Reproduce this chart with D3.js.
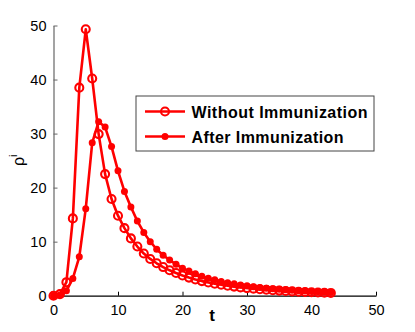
<!DOCTYPE html>
<html>
<head>
<meta charset="utf-8">
<script src="https://d3js.org/d3.v7.min.js"></script>
<style>
html,body{margin:0;padding:0;background:#fff;}
svg{display:block;}
</style>
</head>
<body>
<svg id="chart" width="415" height="332"></svg>
<script>
const tValues = d3.range(0, 44);
const withoutImmunization = [0, 0.3, 2.5, 14.3, 38.5, 49.3, 40.2, 29.9, 22.5, 17.9, 14.8, 12.5, 10.6, 9.1,
  7.8, 6.8, 6.0, 5.3, 4.7, 4.2, 3.75, 3.35, 3.0, 2.7, 2.45, 2.22, 2.02, 1.84, 1.68, 1.54,
  1.41, 1.3, 1.2, 1.1, 1.02, 0.94, 0.87, 0.8, 0.74, 0.69, 0.64, 0.59, 0.55, 0.51];
const afterImmunization = [0, 0.15, 0.9, 3.2, 7.2, 16.1, 28.3, 32.2, 31.2, 27.6, 23.1, 19.3, 16.4, 13.8,
  11.7, 10.0, 8.6, 7.5, 6.6, 5.8, 5.1, 4.55, 4.05, 3.6, 3.25, 2.95, 2.65, 2.4, 2.2, 2.0,
  1.82, 1.66, 1.52, 1.4, 1.28, 1.18, 1.08, 1.0, 0.92, 0.85, 0.78, 0.72, 0.66, 0.61];
const xTicks = [0, 10, 20, 30, 40, 50];
const yTicks = [0, 10, 20, 30, 40, 50];
const seriesNames = ["Without Immunization", "After Immunization"];

const svg = d3.select("#chart");
const x = d3.scaleLinear().domain([0, 50]).range([53.5, 376]);
const y = d3.scaleLinear().domain([0, 50]).range([295.7, 25.5]);
const red = "#ff0000";

// axes
const xAxis = d3.axisBottom(x).tickValues(xTicks).tickSizeInner(-4).tickSizeOuter(0).tickPadding(9);
const yAxis = d3.axisLeft(y).tickValues(yTicks).tickSizeInner(-4).tickSizeOuter(0).tickPadding(7);

const gx = svg.append("g").attr("transform", `translate(0,${y(0)})`).call(xAxis);
gx.select(".domain").attr("stroke", "#000").attr("stroke-width", 1.2);
gx.selectAll(".tick line").attr("stroke", "#000");
gx.selectAll("text").attr("font-family", "Liberation Sans, Arial, sans-serif").attr("font-size", 14.5).attr("fill", "#000");

const gy = svg.append("g").attr("transform", `translate(${x(0)},0)`).call(yAxis);
gy.select(".domain").attr("stroke", "#666").attr("stroke-width", 1.2);
gy.selectAll(".tick line").attr("stroke", "#666");
gy.selectAll("text").attr("font-family", "Liberation Sans, Arial, sans-serif").attr("font-size", 14.5).attr("fill", "#000");

// axis labels
svg.append("text").attr("x", 212).attr("y", 321).attr("text-anchor", "middle")
  .attr("font-family", "Liberation Sans, Arial, sans-serif").attr("font-weight", "bold").attr("font-size", 17)
  .text("t");
const yl = svg.append("text").attr("transform", "translate(24,166) rotate(-90)")
  .attr("font-family", "Liberation Sans, Arial, sans-serif").attr("font-size", 16);
yl.append("tspan").text("ρ");
yl.append("tspan").attr("dy", -7).attr("font-size", 11).text("i");

const line = d3.line().x((d, i) => x(tValues[i])).y(d => y(d));

// series 1: open circles
svg.append("path").datum(withoutImmunization).attr("d", line)
  .attr("fill", "none").attr("stroke", red).attr("stroke-width", 2.6).attr("stroke-linejoin", "round");
svg.append("g").selectAll("circle").data(withoutImmunization).join("circle")
  .attr("cx", (d, i) => x(tValues[i])).attr("cy", d => y(d)).attr("r", 4)
  .attr("fill", "none").attr("stroke", red).attr("stroke-width", 2.1);

// series 2: filled circles
svg.append("path").datum(afterImmunization).attr("d", line)
  .attr("fill", "none").attr("stroke", red).attr("stroke-width", 2.6).attr("stroke-linejoin", "round");
svg.append("g").selectAll("circle").data(afterImmunization).join("circle")
  .attr("cx", (d, i) => x(tValues[i])).attr("cy", d => y(d)).attr("r", 3.5)
  .attr("fill", red).attr("stroke", "none");

// legend
const lg = svg.append("g");
lg.append("rect").attr("x", 136).attr("y", 96).attr("width", 238).attr("height", 55)
  .attr("fill", "#fff").attr("stroke", "#444").attr("stroke-width", 1);
const rows = [117.5, 142.5];
const textWidths = [176, 152];
rows.forEach((ry, k) => {
  const cy = ry - 6;
  lg.append("line").attr("x1", 145).attr("x2", 185).attr("y1", cy).attr("y2", cy)
    .attr("stroke", red).attr("stroke-width", 2.6);
  if (k === 0) {
    lg.append("circle").attr("cx", 165).attr("cy", cy).attr("r", 4)
      .attr("fill", "none").attr("stroke", red).attr("stroke-width", 2.1);
  } else {
    lg.append("circle").attr("cx", 165).attr("cy", cy).attr("r", 3.5).attr("fill", red);
  }
  lg.append("text").attr("x", 191.5).attr("y", ry)
    .attr("font-family", "Liberation Sans, Arial, sans-serif").attr("font-weight", "bold").attr("font-size", 16)
    .attr("textLength", textWidths[k]).attr("lengthAdjust", "spacing")
    .text(seriesNames[k]);
});
</script>
</body>
</html>
